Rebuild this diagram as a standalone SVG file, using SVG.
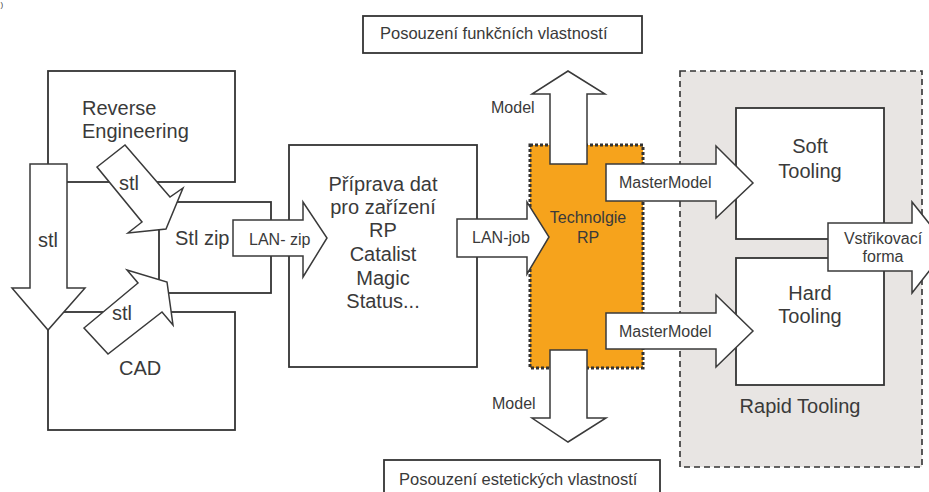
<svg xmlns="http://www.w3.org/2000/svg" width="929" height="492" viewBox="0 0 929 492">
<style>
  text { font-family: "Liberation Sans", Arial, sans-serif; fill: #3a3a3a; }
  .big { font-size: 20px; }
  .sm { font-size: 16px; }
  .md { font-size: 16.5px; }
  .tiny { font-size: 8px; }
  .box { fill: #ffffff; stroke: #333333; stroke-width: 1.8; }
  .arrow { fill: #ffffff; stroke: #3a3a3a; stroke-width: 1.5; stroke-linejoin: miter; }
  .mid { text-anchor: middle; }
</style>
<rect x="0" y="0" width="929" height="492" fill="#ffffff"/>
<text x="0.5" y="7" class="tiny">)</text>

<g id="reverse-engineering">
  <rect class="box" x="48" y="71" width="187" height="111"/>
  <text class="big" x="82" y="115">Reverse</text>
  <text class="big" x="82" y="138">Engineering</text>
</g>
<g id="cad">
  <rect class="box" x="48" y="312" width="187" height="118"/>
  <text class="big" x="119" y="375">CAD</text>
</g>
<g id="stl-zip">
  <rect class="box" x="159" y="202" width="112" height="91"/>
  <text class="big" x="175" y="245">Stl zip</text>
</g>
<g id="priprava">
  <rect class="box" x="289" y="145" width="188" height="222"/>
  <text class="big mid" x="383" y="191">Příprava dat</text>
  <text class="big mid" x="383" y="214">pro zařízení</text>
  <text class="big mid" x="383" y="237">RP</text>
  <text class="big mid" x="383" y="261">Catalist</text>
  <text class="big mid" x="383" y="285">Magic</text>
  <text class="big mid" x="383" y="308">Status...</text>
</g>
<g id="technologie-rp">
  <rect x="530" y="145" width="113" height="223" fill="#f6a31c" stroke="#333333" stroke-width="3" stroke-dasharray="3 2"/>
  <text class="sm mid" x="588" y="223">Technolgie</text>
  <text class="sm mid" x="588" y="243">RP</text>
</g>
<g id="posouzeni-funkcnich">
  <rect class="box" x="363" y="16" width="279" height="37"/>
  <text class="md" x="380" y="38.5">Posouzení funkčních vlastností</text>
</g>
<g id="posouzeni-estetickych">
  <rect class="box" x="384" y="460" width="276" height="45"/>
  <text class="md" x="399" y="484.5">Posouzení estetických vlastností</text>
</g>
<g id="rapid-tooling">
  <rect x="680" y="71" width="242" height="396" fill="#e8e5e3" stroke="#333333" stroke-width="1.6" stroke-dasharray="6 4"/>
  <text class="big mid" x="800" y="413">Rapid Tooling</text>
</g>
<g id="soft-tooling">
  <rect class="box" x="736" y="108" width="148" height="131"/>
  <text class="big mid" x="810" y="153">Soft</text>
  <text class="big mid" x="810" y="178">Tooling</text>
</g>
<g id="hard-tooling">
  <rect class="box" x="736" y="258" width="148" height="127"/>
  <text class="big mid" x="810" y="300">Hard</text>
  <text class="big mid" x="810" y="323">Tooling</text>
</g>

<g id="connectors">
  <polygon class="arrow" points="30,164 67,164 67,288 85,288 48,330 12,288 30,288"/>
  <text class="big" x="38" y="247">stl</text>
  <polygon class="arrow" points="125,145 170,197 183,188 166,229 128,233 142,222 97,167"/>
  <text class="big" x="119" y="190">stl</text>
  <polygon class="arrow" points="127,270 167,282 173,325 162,312 108,354 84,328 138,283"/>
  <text class="big" x="112" y="320">stl</text>
  <polygon class="arrow" points="233,220 303,220 303,202 327,238 303,277 303,256 233,256"/>
  <text class="sm" x="249" y="245">LAN- zip</text>
  <polygon class="arrow" points="457,219 527,219 527,202 549,237 527,274 527,257 457,257"/>
  <text class="sm" x="472" y="243">LAN-job</text>
  <polygon class="arrow" points="550,164 550,94 532,94 568,71 605,94 587,94 587,164"/>
  <text class="sm" x="491" y="112.5">Model</text>
  <polygon class="arrow" points="550,350 587,350 587,418 606,418 568,442 532,418 550,418"/>
  <text class="sm" x="492" y="409">Model</text>
  <polygon class="arrow" points="606,164 716,164 716,146 753,183 716,218 716,201 606,201"/>
  <text class="sm" x="619" y="188">MasterModel</text>
  <polygon class="arrow" points="606,313 716,313 716,295 753,331 716,367 716,349 606,349"/>
  <text class="sm" x="619" y="337">MasterModel</text>
  <polygon class="arrow" points="828,223 912,223 912,202 948,247 912,293 912,271 828,271"/>
  <text class="sm mid" x="883" y="244">Vstřikovací</text>
  <text class="sm mid" x="883" y="262">forma</text>
</g>
</svg>
